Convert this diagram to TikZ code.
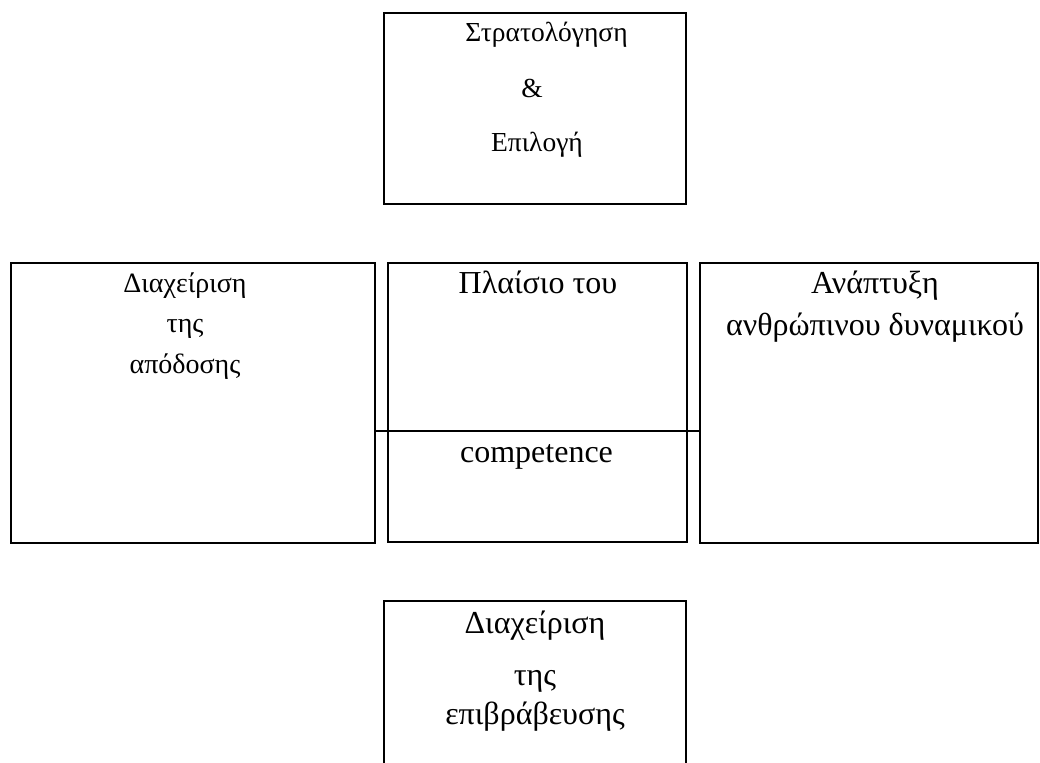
\documentclass[tikz,border=0pt]{standalone}
\usepackage{fontspec}
\setmainfont{Liberation Serif}
\begin{document}
\begin{tikzpicture}[x=1pt,y=-1pt,
  box/.style={draw=black,line width=2pt,inner sep=0pt,outer sep=0pt},
  link/.style={draw=black,line width=2pt},
  lblt/.style={anchor=base,inner sep=0pt,font=\fontsize{27.5}{27.5}\selectfont},
  lbll/.style={anchor=base,inner sep=0pt,font=\fontsize{28}{28}\selectfont},
  lbl/.style={anchor=base,inner sep=0pt,font=\fontsize{32}{32}\selectfont}]
\useasboundingbox (0,0) rectangle (1040,762);
% boxes
\node[box,minimum width=302pt,minimum height=191pt] (top) at (535,108.5) {};
\node[box,minimum width=364pt,minimum height=280pt] (left) at (193,403) {};
\node[box,minimum width=299pt,minimum height=279pt] (mid) at (537.5,402.5) {};
\node[box,minimum width=338pt,minimum height=280pt] (right) at (869,403) {};
% bottom box (open at the bottom edge)
\coordinate (bl) at (384,770);
\coordinate (br) at (686,770);
\coordinate (btl) at (384,601);
\coordinate (btr) at (686,601);
\draw[link] (bl) -- (btl) -- (btr) -- (br);
% divider line across the middle box
\coordinate (dl) at (left.east |- 0,431);
\coordinate (dr) at (right.west |- 0,431);
\draw[link] (dl) -- (dr);
% texts
\node[lblt] (t1) at (546.5,42) {Στρατολόγηση};
\node[lblt] (t2) at (532,98) {\&};
\node[lblt] (t3) at (537,152) {Επιλογή};
\node[lbll] (l1) at (185,292) {Διαχείριση};
\node[lbll] (l2) at (185,332) {της};
\node[lbll] (l3) at (185,373) {απόδοσης};
\node[lbl] (m1) at (538,293) {Πλαίσιο του};
\node[lbl] (m2) at (536.5,462) {competence};
\node[lbl] (r1) at (875,293) {Ανάπτυξη};
\node[lbl] (r2) at (875,335) {ανθρώπινου δυναμικού};
\node[lbl] (b1) at (535,633) {Διαχείριση};
\node[lbl] (b2) at (535,685) {της};
\node[lbl] (b3) at (535,724) {επιβράβευσης};
\end{tikzpicture}
\end{document}
